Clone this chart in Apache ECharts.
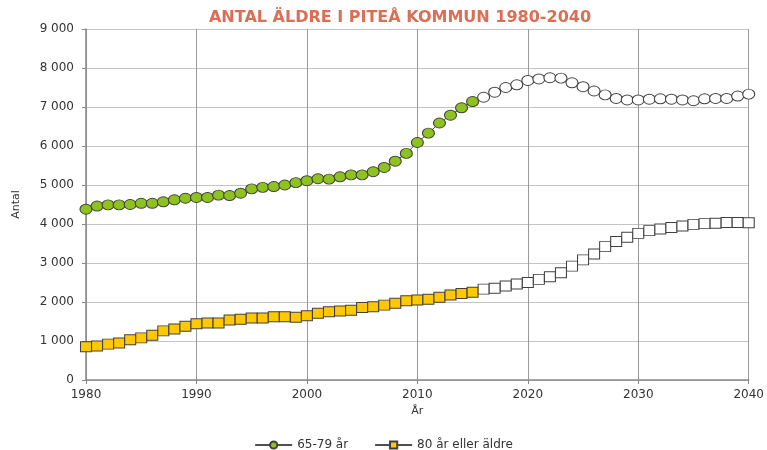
<!DOCTYPE html>
<html>
<head>
<meta charset="utf-8">
<script src="https://cdn.jsdelivr.net/npm/echarts@6/dist/echarts.min.js"></script>
<style>
html,body{margin:0;padding:0;background:#fff;}
#chart{width:767px;height:450px;}
</style>
</head>
<body>
<div id="chart"></div>
<script>
var years = [];
for (var y = 1980; y <= 2040; y++) years.push(y);
var lastObservedYear = 2015;
var age6579 = [4380,4460,4490,4490,4500,4530,4530,4570,4620,4660,
  4680,4680,4740,4730,4790,4900,4940,4960,5000,5060,
  5110,5160,5150,5210,5260,5260,5340,5450,5610,5810,
  6090,6330,6590,6790,6980,7140,7250,7380,7500,7570,
  7680,7720,7750,7740,7620,7520,7410,7310,7220,7180,
  7180,7200,7210,7200,7180,7160,7210,7220,7220,7280,
  7330];
var age80 = [850,870,920,950,1030,1080,1150,1260,1310,1380,
  1440,1460,1460,1540,1560,1590,1590,1620,1620,1610,
  1650,1710,1750,1770,1790,1860,1880,1920,1970,2030,
  2050,2070,2120,2180,2220,2250,2330,2350,2410,2460,
  2500,2580,2650,2750,2920,3080,3230,3420,3550,3660,
  3760,3830,3870,3910,3950,3990,4010,4020,4040,4040,
  4030];

function buildData(vals, fill) {
  return years.map(function (yr, i) {
    return {
      value: [yr, vals[i]],
      itemStyle: { color: yr > lastObservedYear ? '#ffffff' : fill }
    };
  });
}

var chart = echarts.init(document.getElementById('chart'));
var font = 'DejaVu Sans';
chart.setOption({
  animation: false,
  title: {
    text: 'ANTAL ÄLDRE I PITEÅ KOMMUN 1980-2040',
    left: 395, textAlign: 'center', top: 5,
    textStyle: { color: '#DB6E55', fontSize: 16, fontWeight: 'bold', fontFamily: 'DejaVu Sans' }
  },
  legend: {
    top: 434, left: 'center',
    itemWidth: 37, itemHeight: 9, itemGap: 26,
    textStyle: { fontFamily: font, fontSize: 12, color: '#333' },
    data: ['65-79 år', '80 år eller äldre']
  },
  grid: { left: 86, right: 18, top: 29, bottom: 70, containLabel: false },
  xAxis: {
    type: 'value', min: 1980, max: 2040, interval: 10,
    name: 'År', nameLocation: 'middle', nameGap: 25,
    nameTextStyle: { fontFamily: font, fontSize: 11, color: '#333' },
    axisLine: { show: true, lineStyle: { color: '#888', width: 1.5 } },
    axisTick: { show: true, length: 4, lineStyle: { color: '#888' } },
    splitLine: { show: true, lineStyle: { color: '#9a9a9a', width: 1 } },
    axisLabel: { fontFamily: font, fontSize: 12, color: '#333', margin: 9, formatter: function (v) { return String(v); } }
  },
  yAxis: {
    type: 'value', min: 0, max: 9000, interval: 1000,
    name: 'Antal', nameLocation: 'middle', nameGap: 64, nameRotate: 90,
    nameTextStyle: { fontFamily: font, fontSize: 11, color: '#333' },
    axisLine: { show: true, lineStyle: { color: '#888', width: 1.5 } },
    axisTick: { show: true, length: 4, lineStyle: { color: '#888' } },
    splitLine: { show: true, lineStyle: { color: '#c4c4c4', width: 1 } },
    axisLabel: {
      fontFamily: font, fontSize: 12, color: '#333', margin: 12,
      formatter: function (v) {
        return v >= 1000 ? Math.floor(v / 1000) + ' ' + String(v % 1000).padStart(3, '0') : String(v);
      }
    }
  },
  series: [
    {
      name: '65-79 år', type: 'line',
      data: buildData(age6579, '#8DC21F'),
      symbol: 'circle', symbolSize: [12, 10],
      lineStyle: { color: '#505050', width: 1 },
      itemStyle: { color: '#8DC21F', borderColor: '#404040', borderWidth: 1 }
    },
    {
      name: '80 år eller äldre', type: 'line',
      data: buildData(age80, '#FFC800'),
      symbol: 'rect', symbolSize: [11, 10],
      lineStyle: { color: '#505050', width: 1 },
      itemStyle: { color: '#FFC800', borderColor: '#404040', borderWidth: 1 }
    }
  ]
});
</script>
</body>
</html>
